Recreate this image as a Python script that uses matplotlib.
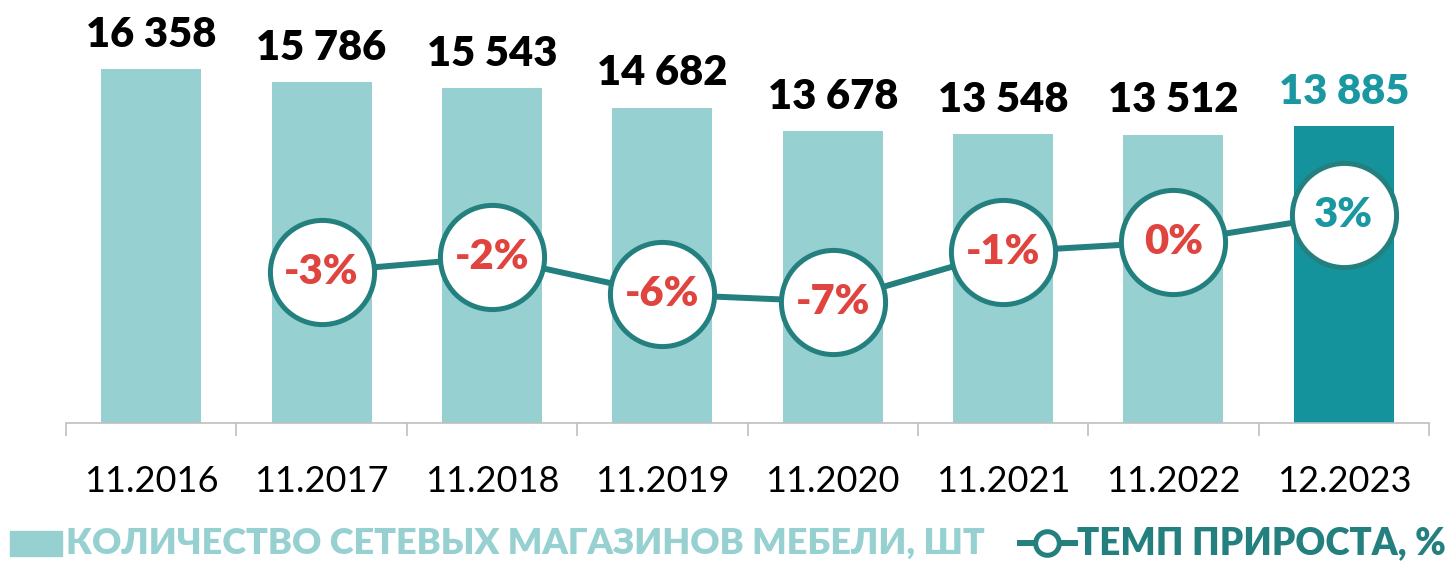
import matplotlib
matplotlib.use("Agg")
import matplotlib.pyplot as plt
from matplotlib.patches import Rectangle
from matplotlib.lines import Line2D

# data
periods = ["11.2016", "11.2017", "11.2018", "11.2019", "11.2020", "11.2021", "11.2022", "12.2023"]
stores = [16358, 15786, 15543, 14682, 13678, 13548, 13512, 13885]
growth = [-3.5, -1.9, -6.0, -6.8, -1.3, -0.2, 2.8]
growth_labels = ["-3%", "-2%", "-6%", "-7%", "-1%", "0%", "3%"]

LIGHT = "#96d0d0"
DARK = "#15939c"
LINE = "#23807f"
RED = "#e0443f"
TEAL_TXT = "#1a98a2"

plt.rcParams["font.family"] = ["Lato", "Noto Sans", "DejaVu Sans"]

fig = plt.figure(figsize=(14.47, 5.61), dpi=100)
ax = fig.add_axes([66 / 1447, 138 / 561, 1363 / 1447, 423 / 561])

x = list(range(len(periods)))
colors = [LIGHT] * (len(stores) - 1) + [DARK]
bars = ax.bar(x, stores, width=0.587, color=colors, zorder=2)
ax.set_xlim(-0.5, len(periods) - 0.5)
ax.set_ylim(1000, 19350)

for i, (b, v) in enumerate(zip(bars, stores)):
    txt = f"{v:,}".replace(",", " ")
    c = TEAL_TXT if i == len(stores) - 1 else "black"
    ax.annotate(txt, (b.get_x() + b.get_width() / 2, v), xytext=(0, 16),
                textcoords="offset points", ha="center", va="baseline",
                fontsize=30, fontweight="heavy", color=c)

# axis styling
for s in ["top", "right", "left"]:
    ax.spines[s].set_visible(False)
ax.spines["bottom"].set_color("#bfbfbf")
ax.spines["bottom"].set_linewidth(1.2)
ax.set_yticks([])
ax.set_xticks([i - 0.5 for i in range(len(periods) + 1)])
ax.set_xticklabels([])
ax.tick_params(axis="x", which="major", length=9, color="#bfbfbf", width=1.2)
ax.set_xticks(x, minor=True)
ax.set_xticklabels(periods, minor=True)
ax.tick_params(axis="x", which="minor", length=0, pad=30, labelsize=26)

# growth line on secondary axis
ax2 = ax.twinx()
ax2.set_ylim(-20.2, 26.5)
ax2.axis("off")
gx = x[1:]
ax2.plot(gx, growth, color=LINE, lw=4.3, marker="o", ms=75, mfc="white",
         mec=LINE, mew=3.6, zorder=3)
for i, (xx, v, lab) in enumerate(zip(gx, growth, growth_labels)):
    c = TEAL_TXT if v > 0 else RED
    ax2.text(xx, v, lab, ha="center", va="center", fontsize=30,
             fontweight="heavy", color=c, zorder=4)

# legend drawn by hand at the bottom
ly = (561 - 543) / 561
fig.patches.append(Rectangle((10 / 1447, (561 - 556) / 561), 52 / 1447, 25 / 561,
                             transform=fig.transFigure, color=LIGHT))
fig.text(66 / 1447, ly, "КОЛИЧЕСТВО СЕТЕВЫХ МАГАЗИНОВ МЕБЕЛИ, ШТ",
         ha="left", va="center", fontsize=26, fontweight="heavy", color=LIGHT)
fig.lines.append(Line2D([1020 / 1447, 1075 / 1447], [ly] * 2,
                        transform=fig.transFigure, color=LINE, lw=4.3))
fig.lines.append(Line2D([1047 / 1447], [ly], transform=fig.transFigure,
                        marker="o", ms=17, mfc="white", mec=LINE, mew=3.6, color=LINE))
fig.text(1077 / 1447, ly, "ТЕМП ПРИРОСТА, %",
         ha="left", va="center", fontsize=26.5, fontweight="heavy", color=LINE)

fig.savefig("out.png", dpi=100)
